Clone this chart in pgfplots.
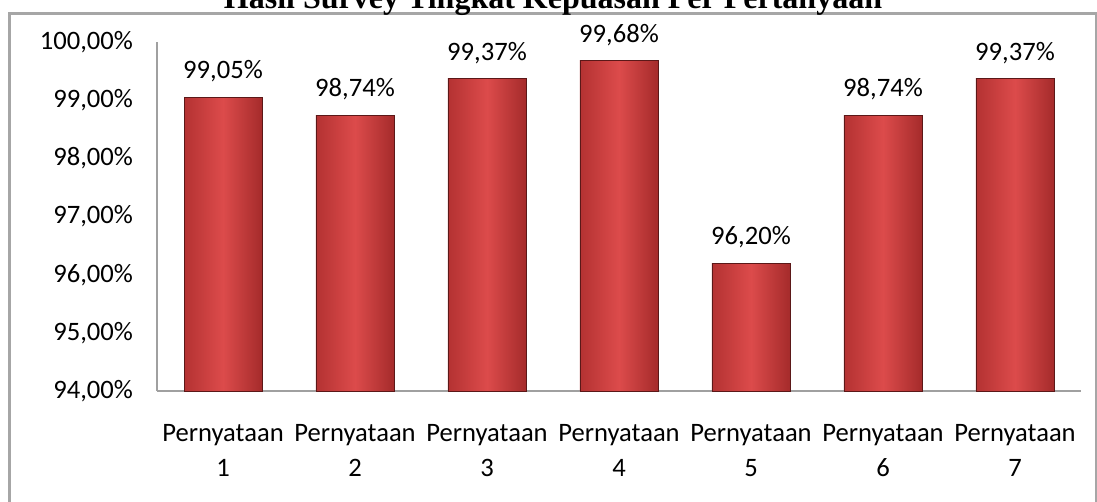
\documentclass[border=0pt]{standalone}
\usepackage{pgfplots}
\pgfplotsset{compat=1.18}
\usepackage{fontspec}
\setmainfont{Carlito}
\newfontfamily\titlefont{Liberation Serif}
\definecolor{barmid}{HTML}{DC4B4B}
\definecolor{barleft}{HTML}{B43232}
\definecolor{barright}{HTML}{A52B2B}
\definecolor{framegray}{HTML}{A6A6A6}
\definecolor{axisgray}{HTML}{A0A0A0}
\pgfplotsset{redbar/.style={ybar, bar shift=0pt, draw=barright!55!black, line width=0.4pt, left color=barleft, right color=barright, middle color=barmid}}
\begin{document}
\begin{tikzpicture}
\useasboundingbox (0,0) rectangle (548.5pt,251pt);
\clip (0,0) rectangle (548.5pt,251pt);
\fill[white] (0,0) rectangle (548.5pt,251pt);
\draw[framegray, line width=1.4pt] (4.75pt,-10pt) -- (4.75pt,244.25pt) -- (548pt,244.25pt) -- (548pt,-10pt);
\node[anchor=base, inner sep=0pt] at (276.5pt,246.75pt) {\titlefont\fontsize{16}{18}\selectfont\bfseries Hasil Survey Tingkat Kepuasan Per Pertanyaan};
\begin{axis}[
  at={(78.5pt,55.5pt)}, anchor=south west,
  scale only axis, width=462pt, height=174.5pt,
  xmin=0.5, xmax=7.5, ymin=94, ymax=100,
  axis x line=bottom, axis y line=left,
  axis line style={axisgray, line width=0.8pt, -},
  major tick length=0pt,
  ytick={94,95,96,97,98,99,100},
  xtick={1,2,3,4,5,6,7},
  xticklabels={{Pernyataan\\1},{Pernyataan\\2},{Pernyataan\\3},{Pernyataan\\4},{Pernyataan\\5},{Pernyataan\\6},{Pernyataan\\7}},
  xticklabel style={align=center, font=\fontsize{13.3}{17.5}\selectfont, yshift=-13pt},
  yticklabel={\pgfmathprintnumber[fixed,fixed zerofill,precision=2,use comma]{\tick}\%},
  yticklabel style={font=\fontsize{13.3}{15}\selectfont, xshift=-8.5pt},
  /pgf/number format/assume math mode=true,
  ybar, bar width=39pt,
  point meta=y,
  nodes near coords={\pgfmathprintnumber[fixed,fixed zerofill,precision=2,use comma]{\pgfplotspointmeta}\%},
  every node near coord/.append style={font=\fontsize{13.3}{15}\selectfont, black, yshift=4pt},
  clip=false,
]
\addplot[redbar] coordinates {(1,99.05)};
\addplot[redbar] coordinates {(2,98.74)};
\addplot[redbar] coordinates {(3,99.37)};
\addplot[redbar] coordinates {(4,99.68)};
\addplot[redbar] coordinates {(5,96.20)};
\addplot[redbar] coordinates {(6,98.74)};
\addplot[redbar] coordinates {(7,99.37)};
\end{axis}
\end{tikzpicture}
\end{document}
